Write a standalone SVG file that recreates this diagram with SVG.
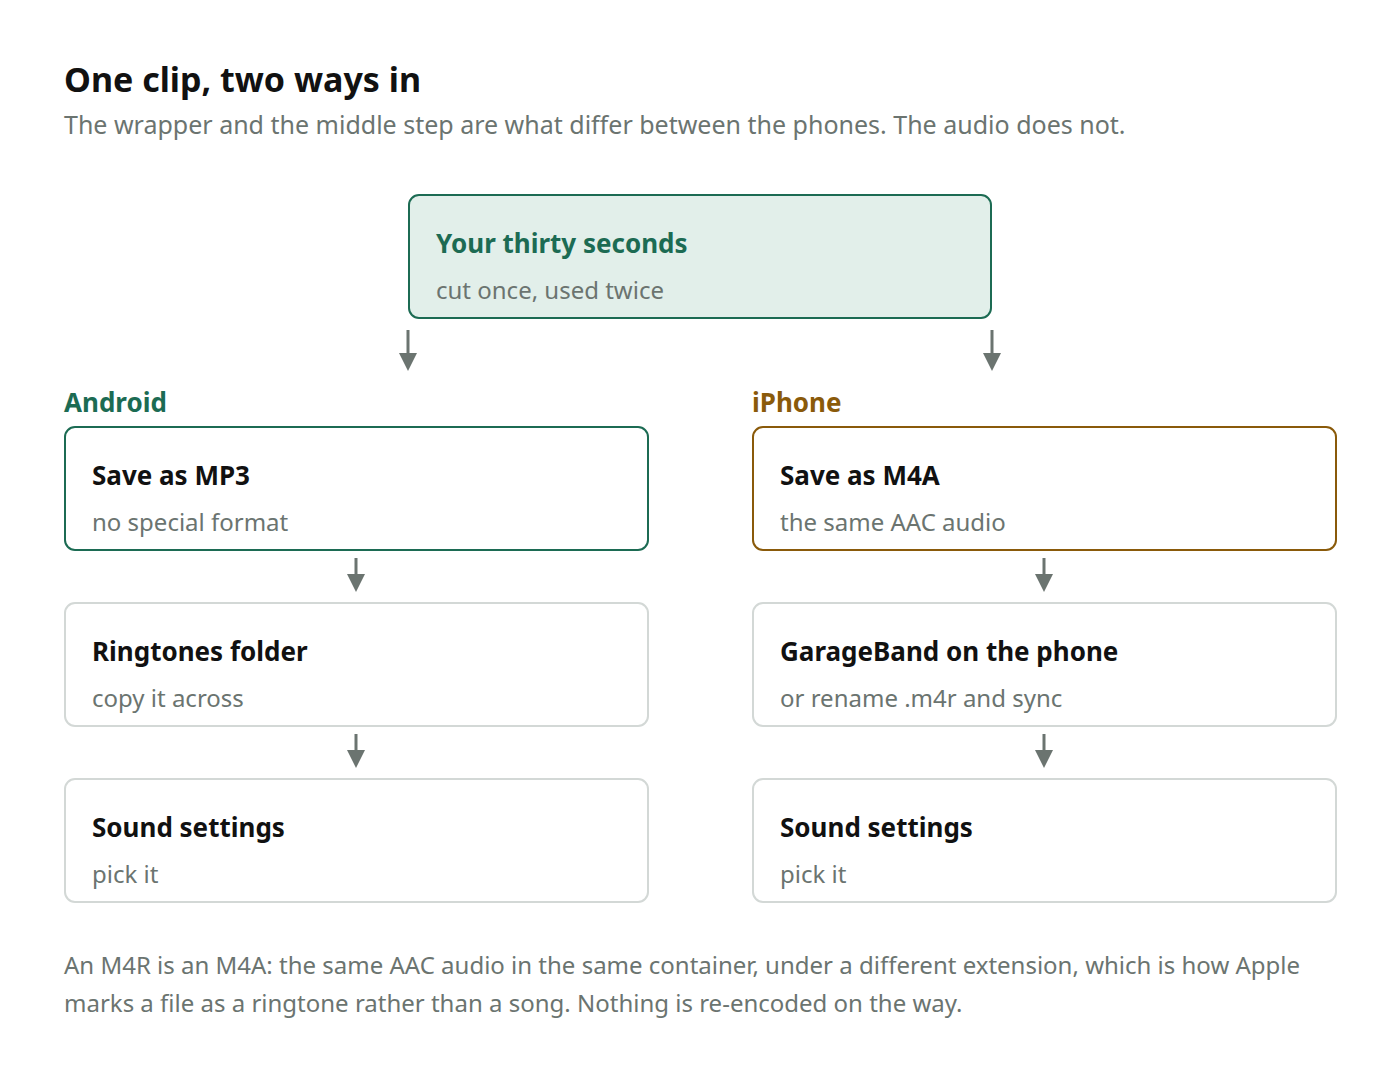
<svg xmlns="http://www.w3.org/2000/svg" width="1400" height="1086" viewBox="0 0 1400 1086">
<style>
text{font-family:"Noto Sans","Open Sans","DejaVu Sans",sans-serif}
.t{font-size:26px;font-weight:bold;fill:#111}
.s{font-size:24px;fill:#6b7470}
.box{fill:#fff;stroke:#d3d8d6;stroke-width:2}
.c{stroke:#6b7470;stroke-width:3}
</style>
<defs><marker id="a" markerWidth="6" markerHeight="6" refX="3" refY="3" orient="auto" markerUnits="strokeWidth"><path d="M0,0 L6,3 L0,6Z" fill="#6b7470"/></marker></defs>
<rect width="1400" height="1086" fill="#fff"/>
<text x="64" y="92" style="font-size:34px;font-weight:bold;fill:#111">One clip, two ways in</text>
<text x="64" y="134" style="font-size:25px;fill:#6b7470">The wrapper and the middle step are what differ between the phones. The audio does not.</text>
<g id="clip"><rect x="409" y="195" width="582" height="123" rx="10" fill="#e2efea" stroke="#1c6b53" stroke-width="2"/><text x="436" y="253" class="t" fill="#1c6b53" style="fill:#1c6b53">Your thirty seconds</text><text x="436" y="299" class="s">cut once, used twice</text></g>
<text x="64" y="412" style="font-size:26px;font-weight:bold;fill:#1c6b53">Android</text>
<text x="752" y="412" style="font-size:26px;font-weight:bold;fill:#8a5a0a">iPhone</text>
<g id="a1"><rect x="65" y="427" width="583" height="123" rx="10" fill="#fff" stroke="#1c6b53" stroke-width="2"/><text x="92" y="485" class="t">Save as MP3</text><text x="92" y="531" class="s">no special format</text></g>
<g id="a2"><rect x="65" y="603" width="583" height="123" rx="10" class="box"/><text x="92" y="661" class="t">Ringtones folder</text><text x="92" y="707" class="s">copy it across</text></g>
<g id="a3"><rect x="65" y="779" width="583" height="123" rx="10" class="box"/><text x="92" y="837" class="t">Sound settings</text><text x="92" y="883" class="s">pick it</text></g>
<g id="i1"><rect x="753" y="427" width="583" height="123" rx="10" fill="#fff" stroke="#8a5a0a" stroke-width="2"/><text x="780" y="485" class="t">Save as M4A</text><text x="780" y="531" class="s">the same AAC audio</text></g>
<g id="i2"><rect x="753" y="603" width="583" height="123" rx="10" class="box"/><text x="780" y="661" class="t">GarageBand on the phone</text><text x="780" y="707" class="s">or rename .m4r and sync</text></g>
<g id="i3"><rect x="753" y="779" width="583" height="123" rx="10" class="box"/><text x="780" y="837" class="t">Sound settings</text><text x="780" y="883" class="s">pick it</text></g>
<g id="connectors">
<line x1="408" y1="330" x2="408" y2="362" class="c" marker-end="url(#a)"/>
<line x1="992" y1="330" x2="992" y2="362" class="c" marker-end="url(#a)"/>
<line x1="356" y1="558" x2="356" y2="583" class="c" marker-end="url(#a)"/>
<line x1="356" y1="734" x2="356" y2="759" class="c" marker-end="url(#a)"/>
<line x1="1044" y1="558" x2="1044" y2="583" class="c" marker-end="url(#a)"/>
<line x1="1044" y1="734" x2="1044" y2="759" class="c" marker-end="url(#a)"/>
</g>
<text x="64" y="974" style="font-size:24px;fill:#6b7470">An M4R is an M4A: the same AAC audio in the same container, under a different extension, which is how Apple</text>
<text x="64" y="1012" style="font-size:24px;fill:#6b7470">marks a file as a ringtone rather than a song. Nothing is re-encoded on the way.</text>
</svg>
